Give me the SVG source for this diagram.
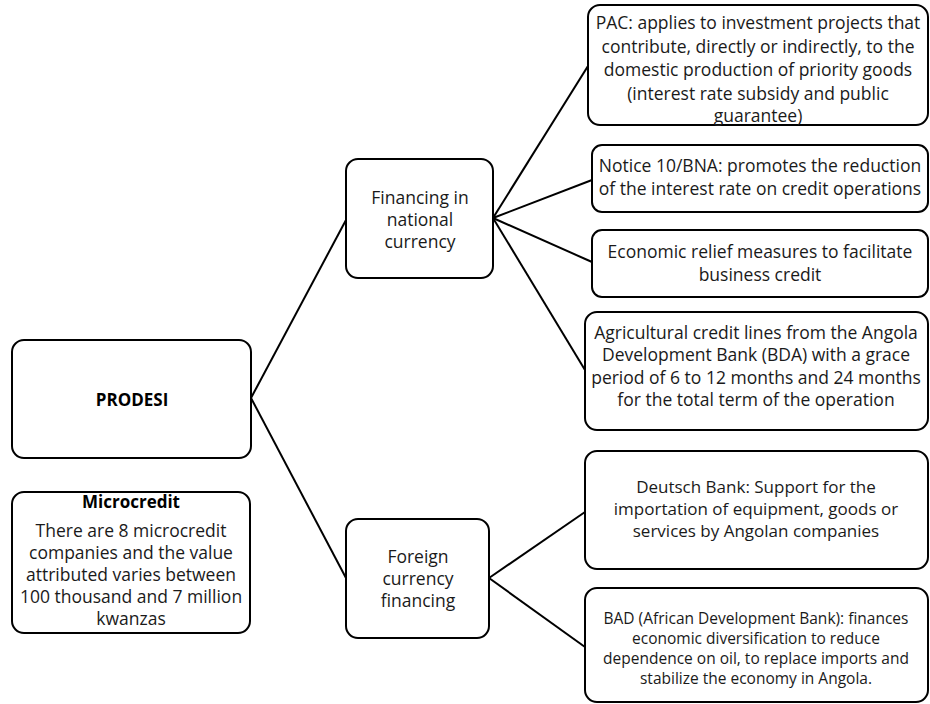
<svg xmlns="http://www.w3.org/2000/svg" width="930" height="704" viewBox="0 0 930 704">
  <style>
    .box { fill: #ffffff; stroke: #000000; stroke-width: 2; }
    .link { stroke: #000000; stroke-width: 2; fill: none; }
    text { font-family: "Open Sans", "Liberation Sans", sans-serif; fill: #1a1a1a; text-anchor: middle; }
    .t { font-size: 17.5px; }
    .d { font-size: 17px; }
    .s { font-size: 15.5px; }
    .b { font-weight: bold; font-size: 17px; fill: #000000; }
  </style>
  <rect width="930" height="704" fill="#ffffff"/>

  <!-- connectors -->
  <g id="connectors">
    <line class="link" x1="251" y1="398" x2="346" y2="220"/>
    <line class="link" x1="251" y1="398" x2="346" y2="578"/>
    <line class="link" x1="493" y1="218" x2="588" y2="66"/>
    <line class="link" x1="493" y1="218" x2="592" y2="180"/>
    <line class="link" x1="493" y1="218" x2="592" y2="262"/>
    <line class="link" x1="493" y1="218" x2="585" y2="370"/>
    <line class="link" x1="489" y1="578" x2="585" y2="512"/>
    <line class="link" x1="489" y1="578" x2="585" y2="647"/>
  </g>

  <g id="prodesi">
    <rect class="box" x="12" y="340" width="239" height="118" rx="12"/>
    <text class="b" x="132" y="406">PRODESI</text>
  </g>

  <g id="microcredit">
    <rect class="box" x="12" y="492" width="238" height="141" rx="12"/>
    <text class="b" x="131" y="508">Microcredit</text>
    <text class="t" x="131" y="537">There are 8 microcredit</text>
    <text class="t" x="131" y="559">companies and the value</text>
    <text class="t" x="131" y="581">attributed varies between</text>
    <text class="t" x="131" y="603">100 thousand and 7 million</text>
    <text class="t" x="131" y="625">kwanzas</text>
  </g>

  <g id="national">
    <rect class="box" x="346" y="159" width="147" height="119" rx="12"/>
    <text class="t" x="420" y="204">Financing in</text>
    <text class="t" x="420" y="226">national</text>
    <text class="t" x="420" y="248">currency</text>
  </g>

  <g id="foreign">
    <rect class="box" x="346" y="519" width="143" height="119" rx="12"/>
    <text class="t" x="418" y="563">Foreign</text>
    <text class="t" x="418" y="585">currency</text>
    <text class="t" x="418" y="607">financing</text>
  </g>

  <g id="pac">
    <rect class="box" x="588" y="5" width="340" height="120" rx="12"/>
    <text class="t" x="758" y="29">PAC: applies to investment projects that</text>
    <text class="t" x="758" y="52.5">contribute, directly or indirectly, to the</text>
    <text class="t" x="758" y="76">domestic production of priority goods</text>
    <text class="t" x="758" y="99.5">(interest rate subsidy and public</text>
    <text class="t" x="758" y="122">guarantee)</text>
  </g>

  <g id="notice">
    <rect class="box" x="592" y="145" width="336" height="67" rx="10"/>
    <text class="t" x="760" y="172">Notice 10/BNA: promotes the reduction</text>
    <text class="t" x="760" y="195">of the interest rate on credit operations</text>
  </g>

  <g id="relief">
    <rect class="box" x="592" y="230" width="336" height="67" rx="10"/>
    <text class="t" x="760" y="258">Economic relief measures to facilitate</text>
    <text class="t" x="760" y="281">business credit</text>
  </g>

  <g id="agricultural">
    <rect class="box" x="585" y="312" width="343" height="118" rx="12"/>
    <text class="t" x="756" y="339">Agricultural credit lines from the Angola</text>
    <text class="t" x="756" y="361">Development Bank (BDA) with a grace</text>
    <text class="t" x="756" y="384">period of 6 to 12 months and 24 months</text>
    <text class="t" x="756" y="406">for the total term of the operation</text>
  </g>

  <g id="deutsch">
    <rect class="box" x="585" y="451" width="343" height="118" rx="12"/>
    <text class="d" x="756" y="493">Deutsch Bank: Support for the</text>
    <text class="d" x="756" y="515">importation of equipment, goods or</text>
    <text class="d" x="756" y="537">services by Angolan companies</text>
  </g>

  <g id="bad">
    <rect class="box" x="585" y="588" width="343" height="114" rx="12"/>
    <text class="s" x="756" y="624">BAD (African Development Bank): finances</text>
    <text class="s" x="756" y="644">economic diversification to reduce</text>
    <text class="s" x="756" y="664">dependence on oil, to replace imports and</text>
    <text class="s" x="756" y="684">stabilize the economy in Angola.</text>
  </g>
</svg>
